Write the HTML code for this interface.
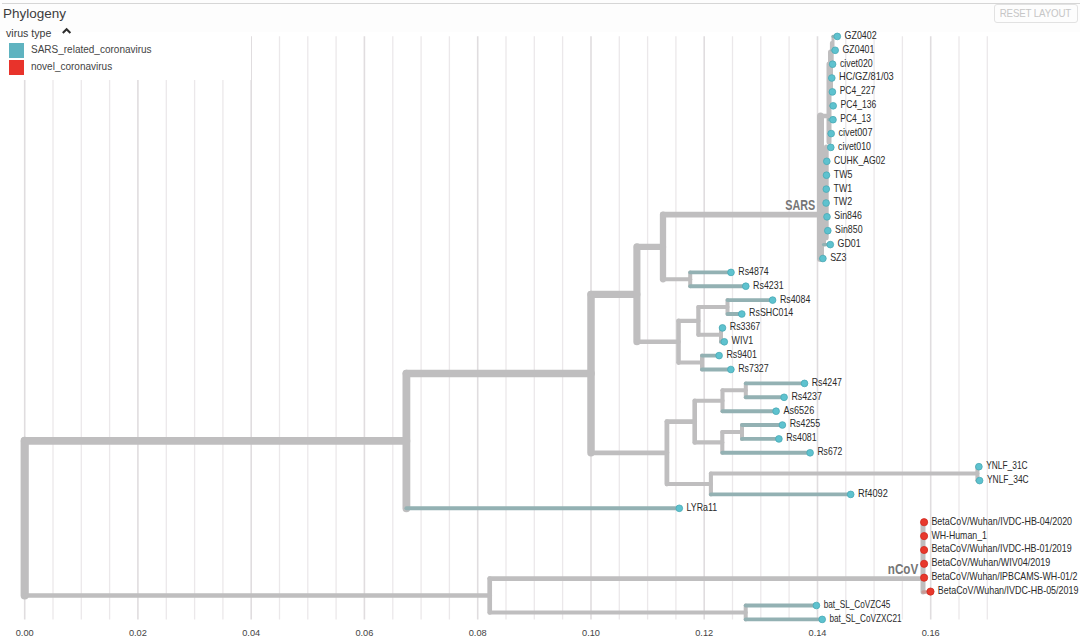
<!DOCTYPE html>
<html><head><meta charset="utf-8"><style>
html,body{margin:0;padding:0;background:#fff;width:1080px;height:643px;overflow:hidden}
body{position:relative;font-family:"Liberation Sans",sans-serif}
.topline{position:absolute;left:2px;top:3px;width:1078px;height:1.3px;background:#d6d6d6}
.title{position:absolute;left:3px;top:5.8px;font-size:13.5px;color:#3c3c3c;letter-spacing:0px}
.reset{position:absolute;left:994px;top:3.5px;width:84px;height:19px;box-sizing:border-box;border:1px solid #e2e2e2;border-radius:3px;font-size:10.2px;color:#c6c6c6;text-align:center;line-height:18px;letter-spacing:-0.15px;padding-left:0px;padding-right:0.5px}
svg{position:absolute;left:0;top:0}
.lab text{font-size:10.2px;fill:#2a2a2a}
.ax text{font-size:9.8px;fill:#444}
.leg{position:absolute;left:0;top:24px;width:251.4px;height:56px;background:linear-gradient(#fdfdfd 0,#fdfdfd 8px,#fff 8px)}
.lt{position:absolute;left:6px;top:2.6px;font-size:10.6px;color:#3a3a3a}
.chev{position:absolute;left:61px;top:3px}
.sq{position:absolute;left:9px;width:15px;height:14.5px}
.li{position:absolute;left:31px;font-size:10px;color:#444}
.clade{font-size:14px;fill:#767676;font-weight:bold}
</style></head><body>
<div style="position:absolute;left:0;top:0;width:1080px;height:32px;background:#fdfdfd"></div>
<div class="topline"></div>
<div class="title">Phylogeny</div>
<div class="reset"><span style="display:inline-block;transform:scaleX(0.955);transform-origin:50% 50%">RESET LAYOUT</span></div>
<svg width="1080" height="643" viewBox="0 0 1080 643">
<defs>
</defs>
<g><line x1="24.7" y1="36.2" x2="24.7" y2="619.5" stroke="#e0dddf" stroke-width="1.6"/><line x1="53.0" y1="36.2" x2="53.0" y2="619.5" stroke="#ebe8ea" stroke-width="1.3"/><line x1="81.3" y1="36.2" x2="81.3" y2="619.5" stroke="#ebe8ea" stroke-width="1.3"/><line x1="109.6" y1="36.2" x2="109.6" y2="619.5" stroke="#ebe8ea" stroke-width="1.3"/><line x1="137.9" y1="36.2" x2="137.9" y2="619.5" stroke="#e0dddf" stroke-width="1.6"/><line x1="166.3" y1="36.2" x2="166.3" y2="619.5" stroke="#ebe8ea" stroke-width="1.3"/><line x1="194.6" y1="36.2" x2="194.6" y2="619.5" stroke="#ebe8ea" stroke-width="1.3"/><line x1="222.9" y1="36.2" x2="222.9" y2="619.5" stroke="#ebe8ea" stroke-width="1.3"/><line x1="251.2" y1="36.2" x2="251.2" y2="619.5" stroke="#e0dddf" stroke-width="1.6"/><line x1="279.5" y1="36.2" x2="279.5" y2="619.5" stroke="#ebe8ea" stroke-width="1.3"/><line x1="307.8" y1="36.2" x2="307.8" y2="619.5" stroke="#ebe8ea" stroke-width="1.3"/><line x1="336.1" y1="36.2" x2="336.1" y2="619.5" stroke="#ebe8ea" stroke-width="1.3"/><line x1="364.4" y1="36.2" x2="364.4" y2="619.5" stroke="#e0dddf" stroke-width="1.6"/><line x1="392.8" y1="36.2" x2="392.8" y2="619.5" stroke="#ebe8ea" stroke-width="1.3"/><line x1="421.1" y1="36.2" x2="421.1" y2="619.5" stroke="#ebe8ea" stroke-width="1.3"/><line x1="449.4" y1="36.2" x2="449.4" y2="619.5" stroke="#ebe8ea" stroke-width="1.3"/><line x1="477.7" y1="36.2" x2="477.7" y2="619.5" stroke="#e0dddf" stroke-width="1.6"/><line x1="506.0" y1="36.2" x2="506.0" y2="619.5" stroke="#ebe8ea" stroke-width="1.3"/><line x1="534.3" y1="36.2" x2="534.3" y2="619.5" stroke="#ebe8ea" stroke-width="1.3"/><line x1="562.6" y1="36.2" x2="562.6" y2="619.5" stroke="#ebe8ea" stroke-width="1.3"/><line x1="591.0" y1="36.2" x2="591.0" y2="619.5" stroke="#e0dddf" stroke-width="1.6"/><line x1="619.3" y1="36.2" x2="619.3" y2="619.5" stroke="#ebe8ea" stroke-width="1.3"/><line x1="647.6" y1="36.2" x2="647.6" y2="619.5" stroke="#ebe8ea" stroke-width="1.3"/><line x1="675.9" y1="36.2" x2="675.9" y2="619.5" stroke="#ebe8ea" stroke-width="1.3"/><line x1="704.2" y1="36.2" x2="704.2" y2="619.5" stroke="#e0dddf" stroke-width="1.6"/><line x1="732.5" y1="36.2" x2="732.5" y2="619.5" stroke="#ebe8ea" stroke-width="1.3"/><line x1="760.8" y1="36.2" x2="760.8" y2="619.5" stroke="#ebe8ea" stroke-width="1.3"/><line x1="789.1" y1="36.2" x2="789.1" y2="619.5" stroke="#ebe8ea" stroke-width="1.3"/><line x1="817.5" y1="36.2" x2="817.5" y2="619.5" stroke="#e0dddf" stroke-width="1.6"/><line x1="845.8" y1="36.2" x2="845.8" y2="619.5" stroke="#ebe8ea" stroke-width="1.3"/><line x1="874.1" y1="36.2" x2="874.1" y2="619.5" stroke="#ebe8ea" stroke-width="1.3"/><line x1="902.4" y1="36.2" x2="902.4" y2="619.5" stroke="#ebe8ea" stroke-width="1.3"/><line x1="930.7" y1="36.2" x2="930.7" y2="619.5" stroke="#e0dddf" stroke-width="1.6"/><line x1="959.0" y1="36.2" x2="959.0" y2="619.5" stroke="#ebe8ea" stroke-width="1.3"/><line x1="987.3" y1="36.2" x2="987.3" y2="619.5" stroke="#ebe8ea" stroke-width="1.3"/></g>
<g class="ax"><text x="15.7" y="636" textLength="18" lengthAdjust="spacingAndGlyphs">0.00</text><text x="128.9" y="636" textLength="18" lengthAdjust="spacingAndGlyphs">0.02</text><text x="242.2" y="636" textLength="18" lengthAdjust="spacingAndGlyphs">0.04</text><text x="355.4" y="636" textLength="18" lengthAdjust="spacingAndGlyphs">0.06</text><text x="468.7" y="636" textLength="18" lengthAdjust="spacingAndGlyphs">0.08</text><text x="582.0" y="636" textLength="18" lengthAdjust="spacingAndGlyphs">0.10</text><text x="695.2" y="636" textLength="18" lengthAdjust="spacingAndGlyphs">0.12</text><text x="808.5" y="636" textLength="18" lengthAdjust="spacingAndGlyphs">0.14</text><text x="921.7" y="636" textLength="18" lengthAdjust="spacingAndGlyphs">0.16</text></g>
<g stroke-linecap="round">
<line x1="24.7" y1="440.9" x2="24.7" y2="595.5" stroke="#bfbebf" stroke-width="8.2"/>
<line x1="24.7" y1="440.9" x2="406.4" y2="440.9" stroke="#bfbebf" stroke-width="7.8"/>
<line x1="406.4" y1="373.6" x2="406.4" y2="508.3" stroke="#bfbebf" stroke-width="7.8"/>
<line x1="406.4" y1="373.6" x2="591.0" y2="373.6" stroke="#bfbebf" stroke-width="7.5"/>
<line x1="591.0" y1="294.4" x2="591.0" y2="452.8" stroke="#bfbebf" stroke-width="7.5"/>
<line x1="591.0" y1="294.4" x2="636.9" y2="294.4" stroke="#bfbebf" stroke-width="7.1"/>
<line x1="636.9" y1="246.9" x2="636.9" y2="341.8" stroke="#bfbebf" stroke-width="7.1"/>
<line x1="636.9" y1="246.9" x2="663.0" y2="246.9" stroke="#bfbebf" stroke-width="6.3"/>
<line x1="663.0" y1="214.6" x2="663.0" y2="279.3" stroke="#bfbebf" stroke-width="6.3"/>
<line x1="663.0" y1="214.6" x2="820.5" y2="214.6" stroke="#bfbebf" stroke-width="5.9"/>
<line x1="820.5" y1="116.0" x2="820.5" y2="258.5" stroke="#bfbebf" stroke-width="7.0"/>
<line x1="820.5" y1="116.0" x2="829.0" y2="116.0" stroke="#bfbebf" stroke-width="4.5"/>
<line x1="829.0" y1="64.0" x2="829.0" y2="142.0" stroke="#bfbebf" stroke-width="5.0"/>
<line x1="830.5" y1="52.0" x2="830.5" y2="92.0" stroke="#bfbebf" stroke-width="5.0"/>
<line x1="831.8" y1="43.0" x2="831.8" y2="64.0" stroke="#bfbebf" stroke-width="3.8"/>
<line x1="833.0" y1="36.5" x2="833.0" y2="50.0" stroke="#bfbebf" stroke-width="3.0"/>
<line x1="826.3" y1="147.0" x2="826.3" y2="238.0" stroke="#bfbebf" stroke-width="4.8"/>
<line x1="820.5" y1="190.0" x2="826.5" y2="190.0" stroke="#bfbebf" stroke-width="4.0"/>
<line x1="824.5" y1="200.0" x2="824.5" y2="245.0" stroke="#bfbebf" stroke-width="3.0"/>
<line x1="833.0" y1="36.4" x2="837.3" y2="36.4" stroke="#93b1b3" stroke-width="3.2"/>
<line x1="832.0" y1="50.3" x2="835.2" y2="50.3" stroke="#93b1b3" stroke-width="3.2"/>
<line x1="831.0" y1="64.2" x2="832.6" y2="64.2" stroke="#93b1b3" stroke-width="3.2"/>
<line x1="830.5" y1="78.0" x2="831.8" y2="78.0" stroke="#93b1b3" stroke-width="3.2"/>
<line x1="830.5" y1="91.9" x2="832.4" y2="91.9" stroke="#93b1b3" stroke-width="3.2"/>
<line x1="830.5" y1="105.8" x2="833.2" y2="105.8" stroke="#93b1b3" stroke-width="3.2"/>
<line x1="829.0" y1="119.7" x2="833.0" y2="119.7" stroke="#93b1b3" stroke-width="3.2"/>
<line x1="829.0" y1="133.6" x2="831.2" y2="133.6" stroke="#93b1b3" stroke-width="3.2"/>
<line x1="829.0" y1="147.4" x2="830.8" y2="147.4" stroke="#93b1b3" stroke-width="3.2"/>
<line x1="826.5" y1="230.7" x2="827.8" y2="230.7" stroke="#93b1b3" stroke-width="3.2"/>
<line x1="823.5" y1="244.6" x2="830.3" y2="244.6" stroke="#93b1b3" stroke-width="3.2"/>
<line x1="820.5" y1="258.5" x2="822.9" y2="258.5" stroke="#93b1b3" stroke-width="3.2"/>
<line x1="663.0" y1="279.3" x2="690.2" y2="279.3" stroke="#bfbebf" stroke-width="4.0"/>
<line x1="690.2" y1="272.4" x2="690.2" y2="286.2" stroke="#bfbebf" stroke-width="4.0"/>
<line x1="690.2" y1="272.4" x2="731.0" y2="272.4" stroke="#93b1b3" stroke-width="3.9"/>
<line x1="690.2" y1="286.2" x2="745.8" y2="286.2" stroke="#93b1b3" stroke-width="3.9"/>
<line x1="636.9" y1="341.8" x2="678.5" y2="341.8" stroke="#bfbebf" stroke-width="4.6"/>
<line x1="678.5" y1="320.9" x2="678.5" y2="362.6" stroke="#bfbebf" stroke-width="4.6"/>
<line x1="678.5" y1="320.9" x2="698.4" y2="320.9" stroke="#bfbebf" stroke-width="4.3"/>
<line x1="698.4" y1="307.1" x2="698.4" y2="334.8" stroke="#bfbebf" stroke-width="4.3"/>
<line x1="698.4" y1="307.1" x2="727.5" y2="307.1" stroke="#bfbebf" stroke-width="4.0"/>
<line x1="727.5" y1="300.1" x2="727.5" y2="314.0" stroke="#bfbebf" stroke-width="4.0"/>
<line x1="727.5" y1="300.1" x2="772.6" y2="300.1" stroke="#93b1b3" stroke-width="3.9"/>
<line x1="727.5" y1="314.0" x2="741.8" y2="314.0" stroke="#93b1b3" stroke-width="3.9"/>
<line x1="698.4" y1="334.8" x2="721.0" y2="334.8" stroke="#bfbebf" stroke-width="4.0"/>
<line x1="721.0" y1="327.9" x2="721.0" y2="341.8" stroke="#bfbebf" stroke-width="4.0"/>
<line x1="721.0" y1="327.9" x2="722.5" y2="327.9" stroke="#93b1b3" stroke-width="3.9"/>
<line x1="721.0" y1="341.8" x2="724.3" y2="341.8" stroke="#93b1b3" stroke-width="3.9"/>
<line x1="678.5" y1="362.6" x2="702.0" y2="362.6" stroke="#bfbebf" stroke-width="4.0"/>
<line x1="702.0" y1="355.6" x2="702.0" y2="369.5" stroke="#bfbebf" stroke-width="4.0"/>
<line x1="702.0" y1="355.6" x2="719.1" y2="355.6" stroke="#93b1b3" stroke-width="3.9"/>
<line x1="702.0" y1="369.5" x2="730.9" y2="369.5" stroke="#93b1b3" stroke-width="3.9"/>
<line x1="591.0" y1="452.8" x2="666.9" y2="452.8" stroke="#bfbebf" stroke-width="4.8"/>
<line x1="666.9" y1="421.6" x2="666.9" y2="484.0" stroke="#bfbebf" stroke-width="4.8"/>
<line x1="666.9" y1="421.6" x2="694.7" y2="421.6" stroke="#bfbebf" stroke-width="4.6"/>
<line x1="694.7" y1="400.8" x2="694.7" y2="442.4" stroke="#bfbebf" stroke-width="4.6"/>
<line x1="694.7" y1="400.8" x2="722.5" y2="400.8" stroke="#bfbebf" stroke-width="4.1"/>
<line x1="722.5" y1="390.3" x2="722.5" y2="411.2" stroke="#bfbebf" stroke-width="4.1"/>
<line x1="722.5" y1="390.3" x2="745.8" y2="390.3" stroke="#bfbebf" stroke-width="4.0"/>
<line x1="745.8" y1="383.4" x2="745.8" y2="397.3" stroke="#bfbebf" stroke-width="4.0"/>
<line x1="745.8" y1="383.4" x2="804.5" y2="383.4" stroke="#93b1b3" stroke-width="3.9"/>
<line x1="745.8" y1="397.3" x2="784.1" y2="397.3" stroke="#93b1b3" stroke-width="3.9"/>
<line x1="722.5" y1="411.2" x2="776.1" y2="411.2" stroke="#93b1b3" stroke-width="3.9"/>
<line x1="694.7" y1="442.4" x2="722.3" y2="442.4" stroke="#bfbebf" stroke-width="4.1"/>
<line x1="722.3" y1="432.0" x2="722.3" y2="452.8" stroke="#bfbebf" stroke-width="4.1"/>
<line x1="722.3" y1="432.0" x2="742.0" y2="432.0" stroke="#bfbebf" stroke-width="4.0"/>
<line x1="742.0" y1="425.0" x2="742.0" y2="438.9" stroke="#bfbebf" stroke-width="4.0"/>
<line x1="742.0" y1="425.0" x2="782.4" y2="425.0" stroke="#93b1b3" stroke-width="3.9"/>
<line x1="742.0" y1="438.9" x2="778.9" y2="438.9" stroke="#93b1b3" stroke-width="3.9"/>
<line x1="722.3" y1="452.8" x2="810.1" y2="452.8" stroke="#93b1b3" stroke-width="3.9"/>
<line x1="666.9" y1="484.0" x2="710.9" y2="484.0" stroke="#bfbebf" stroke-width="4.1"/>
<line x1="710.9" y1="473.6" x2="710.9" y2="494.4" stroke="#bfbebf" stroke-width="4.1"/>
<line x1="710.9" y1="473.6" x2="977.4" y2="473.6" stroke="#bfbebf" stroke-width="4.0"/>
<line x1="977.4" y1="466.7" x2="977.4" y2="480.6" stroke="#bfbebf" stroke-width="4.0"/>
<line x1="977.4" y1="466.7" x2="978.9" y2="466.7" stroke="#93b1b3" stroke-width="3.9"/>
<line x1="977.4" y1="480.6" x2="979.6" y2="480.6" stroke="#93b1b3" stroke-width="3.9"/>
<line x1="710.9" y1="494.4" x2="850.7" y2="494.4" stroke="#93b1b3" stroke-width="3.9"/>
<line x1="406.4" y1="508.3" x2="679.3" y2="508.3" stroke="#93b1b3" stroke-width="3.9"/>
<line x1="24.7" y1="595.5" x2="489.7" y2="595.5" stroke="#bfbebf" stroke-width="4.7"/>
<line x1="489.7" y1="578.6" x2="489.7" y2="612.4" stroke="#bfbebf" stroke-width="4.7"/>
<line x1="489.7" y1="578.6" x2="923.0" y2="578.6" stroke="#bfbebf" stroke-width="4.6"/>
<line x1="923.0" y1="522.6" x2="923.0" y2="592.1" stroke="#bfbebf" stroke-width="5.0"/>
<line x1="923.0" y1="592.1" x2="930.5" y2="592.1" stroke="#c99a96" stroke-width="3.5"/>
<line x1="489.7" y1="612.4" x2="745.7" y2="612.4" stroke="#bfbebf" stroke-width="4.0"/>
<line x1="745.7" y1="605.5" x2="745.7" y2="619.4" stroke="#bfbebf" stroke-width="4.0"/>
<line x1="745.7" y1="605.5" x2="816.4" y2="605.5" stroke="#93b1b3" stroke-width="3.9"/>
<line x1="745.7" y1="619.4" x2="822.2" y2="619.4" stroke="#93b1b3" stroke-width="3.9"/></g>
<g><circle cx="837.3" cy="36.4" r="3.35" fill="#5ec2cf" stroke="#4aa9b5" stroke-width="0.8"/>
<circle cx="835.2" cy="50.3" r="3.35" fill="#5ec2cf" stroke="#4aa9b5" stroke-width="0.8"/>
<circle cx="832.6" cy="64.2" r="3.35" fill="#5ec2cf" stroke="#4aa9b5" stroke-width="0.8"/>
<circle cx="831.8" cy="78.0" r="3.35" fill="#5ec2cf" stroke="#4aa9b5" stroke-width="0.8"/>
<circle cx="832.4" cy="91.9" r="3.35" fill="#5ec2cf" stroke="#4aa9b5" stroke-width="0.8"/>
<circle cx="833.2" cy="105.8" r="3.35" fill="#5ec2cf" stroke="#4aa9b5" stroke-width="0.8"/>
<circle cx="833.0" cy="119.7" r="3.35" fill="#5ec2cf" stroke="#4aa9b5" stroke-width="0.8"/>
<circle cx="831.2" cy="133.6" r="3.35" fill="#5ec2cf" stroke="#4aa9b5" stroke-width="0.8"/>
<circle cx="830.8" cy="147.4" r="3.35" fill="#5ec2cf" stroke="#4aa9b5" stroke-width="0.8"/>
<circle cx="826.8" cy="161.3" r="3.35" fill="#5ec2cf" stroke="#4aa9b5" stroke-width="0.8"/>
<circle cx="826.5" cy="175.2" r="3.35" fill="#5ec2cf" stroke="#4aa9b5" stroke-width="0.8"/>
<circle cx="826.3" cy="189.1" r="3.35" fill="#5ec2cf" stroke="#4aa9b5" stroke-width="0.8"/>
<circle cx="826.1" cy="203.0" r="3.35" fill="#5ec2cf" stroke="#4aa9b5" stroke-width="0.8"/>
<circle cx="827.0" cy="216.8" r="3.35" fill="#5ec2cf" stroke="#4aa9b5" stroke-width="0.8"/>
<circle cx="827.8" cy="230.7" r="3.35" fill="#5ec2cf" stroke="#4aa9b5" stroke-width="0.8"/>
<circle cx="830.3" cy="244.6" r="3.35" fill="#5ec2cf" stroke="#4aa9b5" stroke-width="0.8"/>
<circle cx="822.9" cy="258.5" r="3.35" fill="#5ec2cf" stroke="#4aa9b5" stroke-width="0.8"/>
<circle cx="731.0" cy="272.4" r="3.35" fill="#5ec2cf" stroke="#4aa9b5" stroke-width="0.8"/>
<circle cx="745.8" cy="286.2" r="3.35" fill="#5ec2cf" stroke="#4aa9b5" stroke-width="0.8"/>
<circle cx="772.6" cy="300.1" r="3.35" fill="#5ec2cf" stroke="#4aa9b5" stroke-width="0.8"/>
<circle cx="741.8" cy="314.0" r="3.35" fill="#5ec2cf" stroke="#4aa9b5" stroke-width="0.8"/>
<circle cx="722.5" cy="327.9" r="3.35" fill="#5ec2cf" stroke="#4aa9b5" stroke-width="0.8"/>
<circle cx="724.3" cy="341.8" r="3.35" fill="#5ec2cf" stroke="#4aa9b5" stroke-width="0.8"/>
<circle cx="719.1" cy="355.6" r="3.35" fill="#5ec2cf" stroke="#4aa9b5" stroke-width="0.8"/>
<circle cx="730.9" cy="369.5" r="3.35" fill="#5ec2cf" stroke="#4aa9b5" stroke-width="0.8"/>
<circle cx="804.5" cy="383.4" r="3.35" fill="#5ec2cf" stroke="#4aa9b5" stroke-width="0.8"/>
<circle cx="784.1" cy="397.3" r="3.35" fill="#5ec2cf" stroke="#4aa9b5" stroke-width="0.8"/>
<circle cx="776.1" cy="411.2" r="3.35" fill="#5ec2cf" stroke="#4aa9b5" stroke-width="0.8"/>
<circle cx="782.4" cy="425.0" r="3.35" fill="#5ec2cf" stroke="#4aa9b5" stroke-width="0.8"/>
<circle cx="778.9" cy="438.9" r="3.35" fill="#5ec2cf" stroke="#4aa9b5" stroke-width="0.8"/>
<circle cx="810.1" cy="452.8" r="3.35" fill="#5ec2cf" stroke="#4aa9b5" stroke-width="0.8"/>
<circle cx="978.9" cy="466.7" r="3.35" fill="#5ec2cf" stroke="#4aa9b5" stroke-width="0.8"/>
<circle cx="979.6" cy="480.6" r="3.35" fill="#5ec2cf" stroke="#4aa9b5" stroke-width="0.8"/>
<circle cx="850.7" cy="494.4" r="3.35" fill="#5ec2cf" stroke="#4aa9b5" stroke-width="0.8"/>
<circle cx="679.3" cy="508.3" r="3.35" fill="#5ec2cf" stroke="#4aa9b5" stroke-width="0.8"/>
<circle cx="924.1" cy="522.2" r="3.6" fill="#e8382c" stroke="#d12a20" stroke-width="0.8"/>
<circle cx="924.1" cy="536.1" r="3.6" fill="#e8382c" stroke="#d12a20" stroke-width="0.8"/>
<circle cx="924.1" cy="550.0" r="3.6" fill="#e8382c" stroke="#d12a20" stroke-width="0.8"/>
<circle cx="924.1" cy="563.8" r="3.6" fill="#e8382c" stroke="#d12a20" stroke-width="0.8"/>
<circle cx="924.1" cy="577.7" r="3.6" fill="#e8382c" stroke="#d12a20" stroke-width="0.8"/>
<circle cx="930.5" cy="591.6" r="3.6" fill="#e8382c" stroke="#d12a20" stroke-width="0.8"/>
<circle cx="816.4" cy="605.5" r="3.35" fill="#5ec2cf" stroke="#4aa9b5" stroke-width="0.8"/>
<circle cx="822.2" cy="619.4" r="3.35" fill="#5ec2cf" stroke="#4aa9b5" stroke-width="0.8"/>
</g>
<g class="lab">
<text x="844.6" y="38.8" textLength="32.1" lengthAdjust="spacingAndGlyphs">GZ0402</text>
<text x="842.5" y="52.7" textLength="31.9" lengthAdjust="spacingAndGlyphs">GZ0401</text>
<text x="839.9" y="66.6" textLength="32.9" lengthAdjust="spacingAndGlyphs">civet020</text>
<text x="839.1" y="80.4" textLength="54.7" lengthAdjust="spacingAndGlyphs">HC/GZ/81/03</text>
<text x="839.7" y="94.3" textLength="35.5" lengthAdjust="spacingAndGlyphs">PC4_227</text>
<text x="840.5" y="108.2" textLength="35.7" lengthAdjust="spacingAndGlyphs">PC4_136</text>
<text x="840.3" y="122.1" textLength="30.7" lengthAdjust="spacingAndGlyphs">PC4_13</text>
<text x="838.5" y="136.0" textLength="34.0" lengthAdjust="spacingAndGlyphs">civet007</text>
<text x="838.1" y="149.8" textLength="32.9" lengthAdjust="spacingAndGlyphs">civet010</text>
<text x="834.1" y="163.7" textLength="51.3" lengthAdjust="spacingAndGlyphs">CUHK_AG02</text>
<text x="833.8" y="177.6" textLength="18.7" lengthAdjust="spacingAndGlyphs">TW5</text>
<text x="833.6" y="191.5" textLength="18.7" lengthAdjust="spacingAndGlyphs">TW1</text>
<text x="833.4" y="205.4" textLength="18.7" lengthAdjust="spacingAndGlyphs">TW2</text>
<text x="834.3" y="219.2" textLength="27.5" lengthAdjust="spacingAndGlyphs">Sin846</text>
<text x="835.1" y="233.1" textLength="27.5" lengthAdjust="spacingAndGlyphs">Sin850</text>
<text x="837.6" y="247.0" textLength="23.1" lengthAdjust="spacingAndGlyphs">GD01</text>
<text x="830.2" y="260.9" textLength="16.2" lengthAdjust="spacingAndGlyphs">SZ3</text>
<text x="738.3" y="274.8" textLength="30.4" lengthAdjust="spacingAndGlyphs">Rs4874</text>
<text x="753.1" y="288.6" textLength="30.5" lengthAdjust="spacingAndGlyphs">Rs4231</text>
<text x="779.9" y="302.5" textLength="30.5" lengthAdjust="spacingAndGlyphs">Rs4084</text>
<text x="749.1" y="316.4" textLength="44.2" lengthAdjust="spacingAndGlyphs">RsSHC014</text>
<text x="729.8" y="330.3" textLength="30.5" lengthAdjust="spacingAndGlyphs">Rs3367</text>
<text x="731.6" y="344.2" textLength="21.6" lengthAdjust="spacingAndGlyphs">WIV1</text>
<text x="726.4" y="358.0" textLength="30.5" lengthAdjust="spacingAndGlyphs">Rs9401</text>
<text x="738.2" y="371.9" textLength="30.5" lengthAdjust="spacingAndGlyphs">Rs7327</text>
<text x="811.8" y="385.8" textLength="30.2" lengthAdjust="spacingAndGlyphs">Rs4247</text>
<text x="791.4" y="399.7" textLength="30.5" lengthAdjust="spacingAndGlyphs">Rs4237</text>
<text x="783.4" y="413.6" textLength="30.8" lengthAdjust="spacingAndGlyphs">As6526</text>
<text x="789.7" y="427.4" textLength="30.5" lengthAdjust="spacingAndGlyphs">Rs4255</text>
<text x="786.2" y="441.3" textLength="30.5" lengthAdjust="spacingAndGlyphs">Rs4081</text>
<text x="817.4" y="455.2" textLength="24.8" lengthAdjust="spacingAndGlyphs">Rs672</text>
<text x="986.2" y="469.1" textLength="41.4" lengthAdjust="spacingAndGlyphs">YNLF_31C</text>
<text x="986.9" y="483.0" textLength="41.8" lengthAdjust="spacingAndGlyphs">YNLF_34C</text>
<text x="858.0" y="496.8" textLength="29.8" lengthAdjust="spacingAndGlyphs">Rf4092</text>
<text x="686.6" y="510.7" textLength="30.6" lengthAdjust="spacingAndGlyphs">LYRa11</text>
<text x="931.4" y="524.6" textLength="140.7" lengthAdjust="spacingAndGlyphs">BetaCoV/Wuhan/IVDC-HB-04/2020</text>
<text x="931.4" y="538.5" textLength="55.5" lengthAdjust="spacingAndGlyphs">WH-Human_1</text>
<text x="931.4" y="552.4" textLength="140.3" lengthAdjust="spacingAndGlyphs">BetaCoV/Wuhan/IVDC-HB-01/2019</text>
<text x="931.4" y="566.2" textLength="119.0" lengthAdjust="spacingAndGlyphs">BetaCoV/Wuhan/WIV04/2019</text>
<text x="931.4" y="580.1" textLength="146.0" lengthAdjust="spacingAndGlyphs">BetaCoV/Wuhan/IPBCAMS-WH-01/2</text>
<text x="937.8" y="594.0" textLength="140.6" lengthAdjust="spacingAndGlyphs">BetaCoV/Wuhan/IVDC-HB-05/2019</text>
<text x="823.7" y="607.9" textLength="66.6" lengthAdjust="spacingAndGlyphs">bat_SL_CoVZC45</text>
<text x="829.5" y="621.8" textLength="72.0" lengthAdjust="spacingAndGlyphs">bat_SL_CoVZXC21</text></g>
<text class="clade" x="785.3" y="209.8" textLength="30" lengthAdjust="spacingAndGlyphs">SARS</text>
<text class="clade" x="887.8" y="574.0" textLength="30.5" lengthAdjust="spacingAndGlyphs">nCoV</text>
</svg>
<div class="leg">
<div class="lt">virus type</div>
<svg class="chev" width="12" height="8" viewBox="0 0 12 8"><path d="M1.8 5.9 L5.6 2.3 L9.4 5.9" fill="none" stroke="#2e2e2e" stroke-width="2.1"/></svg>
<div class="sq" style="top:19px;background:#5fb3c0"></div>
<div class="sq" style="top:36px;background:#e8332b"></div>
<div class="li" style="top:20px">SARS_related_coronavirus</div>
<div class="li" style="top:37px">novel_coronavirus</div>
</div>
</body></html>
